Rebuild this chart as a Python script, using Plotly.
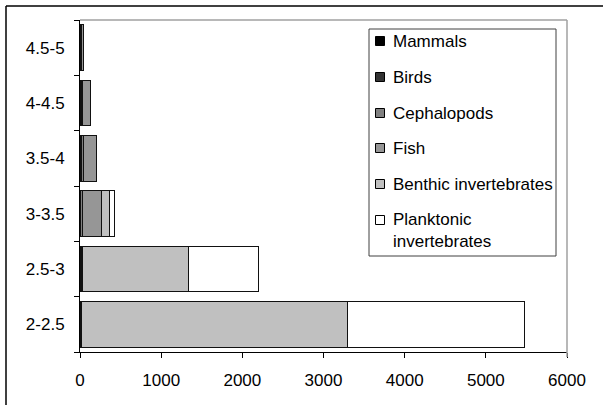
import plotly.graph_objects as go

categories = ["2-2.5", "2.5-3", "3-3.5", "3.5-4", "4-4.5", "4.5-5"]
mammals = [5, 5, 3, 5, 5, 5]
birds = [10, 10, 8, 15, 10, 10]
cephalopods = [2, 3, 15, 20, 10, 5]
fish = [5, 10, 240, 165, 105, 25]
benthic = [3270, 1305, 100, 0, 0, 0]
planktonic = [2190, 867, 60, 0, 0, 0]

series_names = ["Mammals", "Birds", "Cephalopods", "Fish", "Benthic invertebrates", "Planktonic<br>invertebrates"]
series_values = [mammals, birds, cephalopods, fish, benthic, planktonic]
series_colors = ["#000000", "#333333", "#808080", "#969696", "#c0c0c0", "#ffffff"]
x_ticks = [0, 1000, 2000, 3000, 4000, 5000, 6000]

FONT = "Liberation Sans, Arial, sans-serif"

fig = go.Figure()
for name, vals, col in zip(series_names, series_values, series_colors):
    fig.add_trace(go.Bar(
        y=categories, x=vals, name=name, orientation="h",
        marker=dict(color=col, line=dict(color="#111111", width=1)),
        showlegend=False,
    ))

W, H = 603, 405
L, R, T, B = 80, 567, 20, 352
pw, ph = R - L, B - T

def px(x):
    return (x - L) / pw

def py(y):
    return (B - y) / ph

shapes = [
    # outer frame (top and left)
    dict(type="line", xref="paper", yref="paper", x0=px(6), x1=px(603), y0=py(6), y1=py(6),
         line=dict(color="#000000", width=1.5)),
    dict(type="line", xref="paper", yref="paper", x0=px(6), x1=px(6), y0=py(6), y1=py(405),
         line=dict(color="#000000", width=1.5)),
    # plot area border (top, right)
    dict(type="line", xref="paper", yref="paper", x0=0, x1=1, y0=1, y1=1,
         line=dict(color="#a0a0a0", width=1.5)),
    dict(type="line", xref="paper", yref="paper", x0=1, x1=1, y0=py(357), y1=1,
         line=dict(color="#a0a0a0", width=1.5)),
    # legend box
    dict(type="rect", xref="paper", yref="paper", x0=px(369), x1=px(556), y0=py(256), y1=py(29),
         line=dict(color="#404040", width=1), fillcolor="white", layer="above"),
]

annotations = []
row_y = [41, 77, 113, 148, 184, 230]
sw = 4.5
for name, col, yc in zip(series_names, series_colors, row_y):
    sy = yc if "<br>" not in name else 220
    shapes.append(dict(type="rect", xref="paper", yref="paper",
                       x0=px(380 - sw), x1=px(380 + sw), y0=py(sy + sw), y1=py(sy - sw),
                       line=dict(color="#000000", width=1), fillcolor=col, layer="above"))
    annotations.append(dict(xref="paper", yref="paper", x=px(391), y=py(yc),
                            xanchor="left", yanchor="middle", align="left",
                            text=name, showarrow=False,
                            font=dict(family=FONT, size=17, color="#000000")))

fig.update_layout(
    width=W, height=H,
    margin=dict(l=L, r=W - R, t=T, b=H - B, pad=0),
    paper_bgcolor="white", plot_bgcolor="white",
    barmode="stack", bargap=0.18,
    font=dict(family=FONT, size=17, color="#000000"),
    showlegend=False,
    shapes=shapes,
    annotations=annotations,
    hovermode=False,
)
fig.update_xaxes(
    range=[0, 6000], tickvals=x_ticks, ticktext=[str(v) for v in x_ticks],
    showgrid=False, zeroline=False, showline=True, linecolor="#000000", linewidth=1,
    ticks="outside", ticklen=5, tickcolor="#000000", ticklabelstandoff=8,
    tickfont=dict(family=FONT, size=17, color="#000000"),
)
fig.update_yaxes(
    type="category", categoryorder="array", categoryarray=categories,
    showgrid=False, zeroline=False, showline=True, linecolor="#000000", linewidth=1,
    ticks="outside", ticklen=5, tickcolor="#000000", tickson="boundaries",
    ticklabelstandoff=11,
    tickfont=dict(family=FONT, size=17, color="#000000"),
)

fig.write_html("out.html", config={"displayModeBar": False},
               post_script="document.body.style.margin='0px';")
